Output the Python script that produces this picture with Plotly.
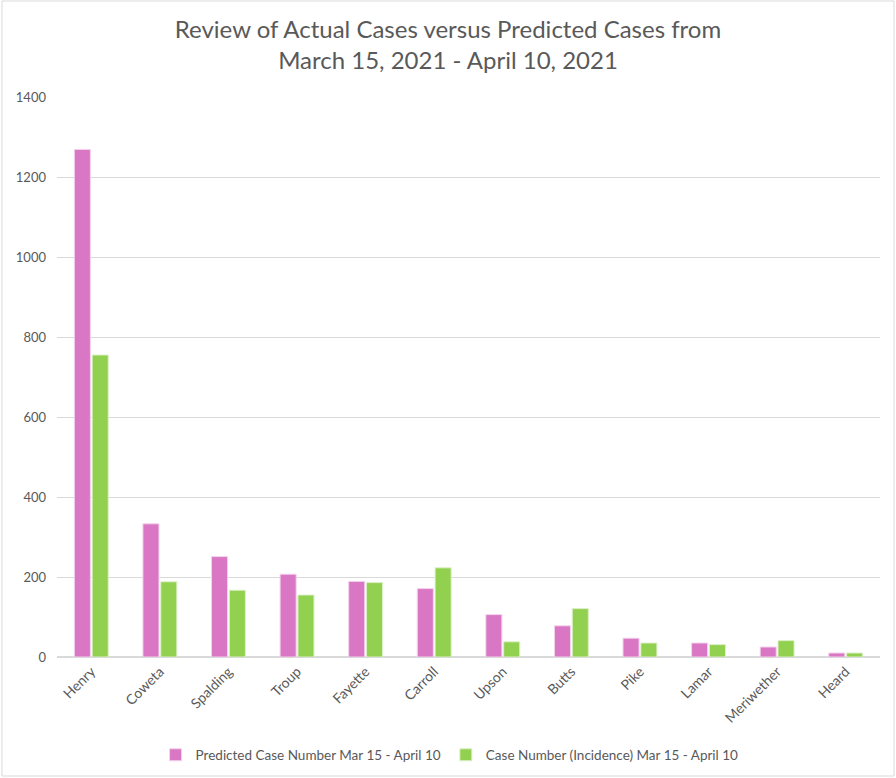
import plotly.graph_objects as go

counties = ["Henry", "Coweta", "Spalding", "Troup", "Fayette", "Carroll",
            "Upson", "Butts", "Pike", "Lamar", "Meriwether", "Heard"]
predicted = [1269, 333, 251, 207, 189, 171, 106, 78, 47, 35, 25, 10]
actual = [755, 188, 167, 155, 186, 223, 38, 121, 35, 31, 41, 10]

pred_name = "Predicted Case Number Mar 15 - April 10"
act_name = "Case Number (Incidence) Mar 15 - April 10"

fig = go.Figure()
fig.add_trace(go.Bar(x=counties, y=predicted, name=pred_name,
                     marker=dict(color="#D977C4", line=dict(color="#F3D3EC", width=1))))
fig.add_trace(go.Bar(x=counties, y=actual, name=act_name,
                     marker=dict(color="#92D050", line=dict(color="#DDF0C8", width=1))))

font_family = "Lato, 'Open Sans', sans-serif"
fig.update_layout(
    width=896, height=778,
    paper_bgcolor="white", plot_bgcolor="white",
    margin=dict(l=57, r=16, t=97, b=121, autoexpand=False),
    title=dict(text="Review of Actual Cases versus Predicted Cases from<br>March 15, 2021 - April 10, 2021",
               x=0.5, xanchor="center", y=1 - 38 / 778, yanchor="middle",
               font=dict(family=font_family, size=24, color="#595959")),
    barmode="group", bargap=0.48, bargroupgap=0.1,
    font=dict(family=font_family, size=13, color="#595959"),
    legend=dict(orientation="h", x=0.477, xanchor="center", y=-0.175, yanchor="middle",
                font=dict(size=13.5, color="#595959"), itemwidth=30),
    showlegend=True,
    xaxis=dict(tickangle=-45, showline=True, linecolor="#D9D9D9", linewidth=1,
               tickfont=dict(size=14, color="#595959"), showgrid=False, automargin=False),
    yaxis=dict(range=[0, 1400], dtick=200, showgrid=True, gridcolor="#D9D9D9",
               zeroline=True, zerolinecolor="#D9D9D9", showline=False, automargin=False,
               tickfont=dict(size=13, color="#595959"), ticks="", ticklabelstandoff=10),
)
fig.add_shape(type="rect", xref="paper", yref="paper",
              x0=(2 - 57) / 823, x1=(894 - 57) / 823,
              y0=(657 - 776) / 560, y1=(657 - 1) / 560,
              line=dict(color="#D9D9D9", width=1), fillcolor="rgba(0,0,0,0)", layer="below")
fig.write_html("out.html", config={"displayModeBar": False},
               post_script="document.body.style.margin='0';document.body.style.overflow='hidden';")
